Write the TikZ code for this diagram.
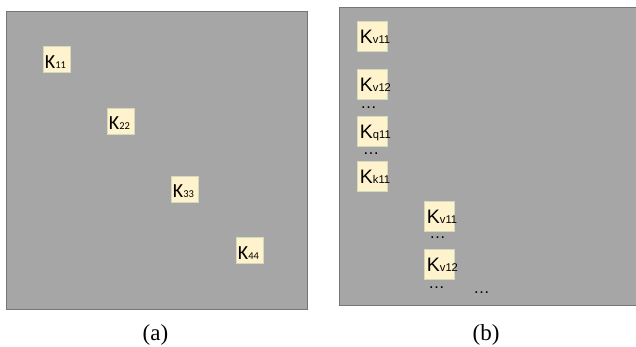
\documentclass[tikz,border=0pt]{standalone}
\usepackage{fontspec}
\setmainfont{Liberation Serif}
\newfontfamily\calfont{Carlito}
\newfontfamily\arialfont{Liberation Sans}
\definecolor{panelfill}{RGB}{166,166,166}
\definecolor{panelline}{RGB}{118,118,118}
\definecolor{cellfill}{RGB}{255,243,206}
\definecolor{cellline}{RGB}{212,218,188}
\tikzset{
  panel/.style={fill=panelfill, draw=panelline, line width=1pt},
  cella/.style={fill=cellfill, draw=cellline, line width=0.6pt,
    minimum width=27pt, minimum height=26pt, inner sep=0pt},
  cellb/.style={fill=cellfill, draw=cellline, line width=0.6pt,
    minimum width=30pt, minimum height=30pt, inner sep=0pt},
  labela/.style={anchor=base west, inner sep=0pt, font=\calfont\fontsize{20}{22}\selectfont},
  labelb/.style={anchor=base west, inner sep=0pt, font=\arialfont\fontsize{19.5}{22}\selectfont},
  gap/.style={anchor=base, inner sep=0pt, text height=2pt, text depth=0pt,
    font=\arialfont\fontsize{16.5}{18}\selectfont},
  caption/.style={anchor=base, inner sep=0pt, font=\fontsize{23}{26}\selectfont}
}
\newcommand{\suba}[1]{{\fontsize{10.5}{12}\selectfont #1}}
\newcommand{\subb}[1]{{\fontsize{11.2}{12}\selectfont #1}}
\begin{document}
\begin{tikzpicture}[x=1pt, y=-1pt]
\useasboundingbox (0,0) rectangle (636,346);

% ---- panel (a): block-diagonal layout ----
\path[panel] (6,11) rectangle (307,309);
\node[cella] (a1) at (56.5,59) {};
\node[cella] (a2) at (120.5,121) {};
\node[cella] (a3) at (184.5,189) {};
\node[cella] (a4) at (249.5,250.5) {};
\node[labela] (ta1) at ([xshift=2pt,yshift=-9pt]a1.west) {K\suba{11}};
\node[labela] (ta2) at ([xshift=2pt,yshift=-8.5pt]a2.west) {K\suba{22}};
\node[labela] (ta3) at ([xshift=2pt,yshift=-8.5pt]a3.west) {K\suba{33}};
\node[labela] (ta4) at ([xshift=2pt,yshift=-8.5pt]a4.west) {K\suba{44}};
\node[caption] (capa) at (155.5,340) {(a)};

% ---- panel (b): sub-blocks, open on the right ----
\fill[panelfill] (339,7) rectangle (636,305);
\draw[panelline, line width=1pt] (637,7) -- (339,7) -- (339,305) -- (637,305);
\node[cellb] (b1) at (372,36) {};
\node[cellb] (b2) at (372,84) {};
\node[cellb] (b3) at (372,131) {};
\node[cellb] (b4) at (372,176) {};
\node[cellb] (b5) at (439,216) {};
\node[cellb] (b6) at (439,264) {};
\node[labelb] (tb1) at ([xshift=3pt,yshift=-7.3pt]b1.west) {K\subb{v11}};
\node[labelb] (tb2) at ([xshift=3pt,yshift=-7.3pt]b2.west) {K\subb{v12}};
\node[labelb] (tb3) at ([xshift=3pt,yshift=-7.3pt]b3.west) {K\subb{q11}};
\node[labelb] (tb4) at ([xshift=3pt,yshift=-7.3pt]b4.west) {K\subb{k11}};
\node[labelb] (tb5) at ([xshift=3pt,yshift=-7.3pt]b5.west) {K\subb{v11}};
\node[labelb] (tb6) at ([xshift=3pt,yshift=-7.3pt]b6.west) {K\subb{v12}};
\node[gap] (d1) at (368.5,108) {…};
\node[gap] (d2) at (371,154) {…};
\node[gap] (d3) at (437.5,238) {…};
\node[gap] (d4) at (436.5,288) {…};
\node[gap] (d5) at (481.5,293) {…};
\node[caption] (capb) at (486,340) {(b)};
\end{tikzpicture}
\end{document}
